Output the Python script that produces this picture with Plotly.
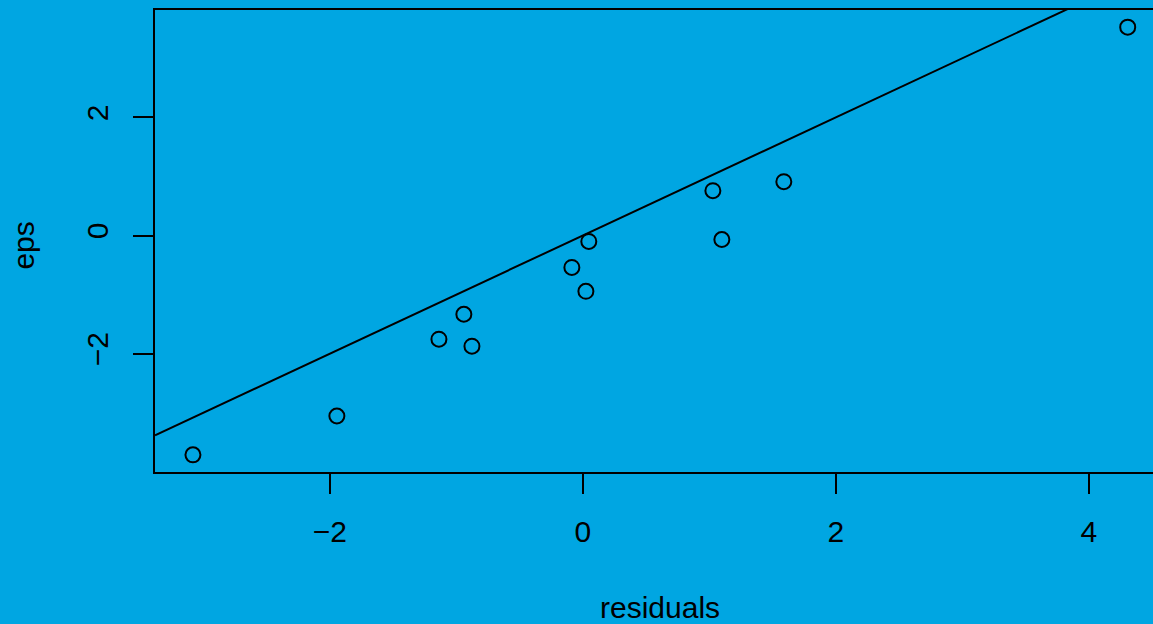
import plotly.graph_objects as go

residuals = [-3.083, -1.945, -1.138, -0.941, -0.877, -0.087, 0.024, 0.047, 1.028, 1.099, 1.589, 4.308]
eps = [-3.713, -3.055, -1.755, -1.333, -1.873, -0.540, -0.945, -0.101, 0.759, -0.068, 0.911, 3.527]
x_ticks = [-2, 0, 2, 4]
y_ticks = [-2, 0, 2]
abline_intercept = 0.0
abline_slope = 1.0

BG = "#00A6E2"
FONT = "Liberation Sans, Arial, sans-serif"

xr = [-3.383, 4.508]
yr = [-4.003, 3.817]

fig = go.Figure()
fig.add_trace(go.Scatter(
    x=xr, y=[abline_intercept + abline_slope * v for v in xr],
    mode="lines", line=dict(color="black", width=2), hoverinfo="skip", showlegend=False))
fig.add_trace(go.Scatter(
    x=residuals, y=eps, mode="markers",
    marker=dict(symbol="circle-open", size=15, color="black", line=dict(width=2)),
    showlegend=False))

fig.update_layout(
    width=1153, height=624,
    paper_bgcolor=BG, plot_bgcolor=BG,
    margin=dict(l=155, r=0, t=10, b=152),
    font=dict(family=FONT, size=30, color="black"),
    xaxis=dict(range=xr, tickvals=x_ticks, showgrid=False, zeroline=False,
               showline=True, mirror=True, linecolor="black", linewidth=2,
               ticks="outside", ticklen=20, tickwidth=2, tickcolor="black",
               ticklabelstandoff=12),
    yaxis=dict(range=yr, tickvals=y_ticks, showgrid=False, zeroline=False,
               showline=True, mirror=False, linecolor="black", linewidth=2,
               ticks="outside", ticklen=20, tickwidth=2, tickcolor="black",
               tickangle=-90, ticklabelstandoff=13),
    annotations=[
        dict(text="residuals", xref="paper", yref="paper", x=0.506, y=0,
             xanchor="center", yanchor="middle", yshift=-135, showarrow=False,
             font=dict(size=30)),
        dict(text="eps", xref="paper", yref="paper", x=0, y=0.49,
             xanchor="center", yanchor="middle", xshift=-131, textangle=-90,
             showarrow=False, font=dict(size=30)),
    ],
)

fig.write_html("out.html", config={"displayModeBar": False},
               post_script="document.body.style.margin='0';document.body.style.overflow='hidden';")
